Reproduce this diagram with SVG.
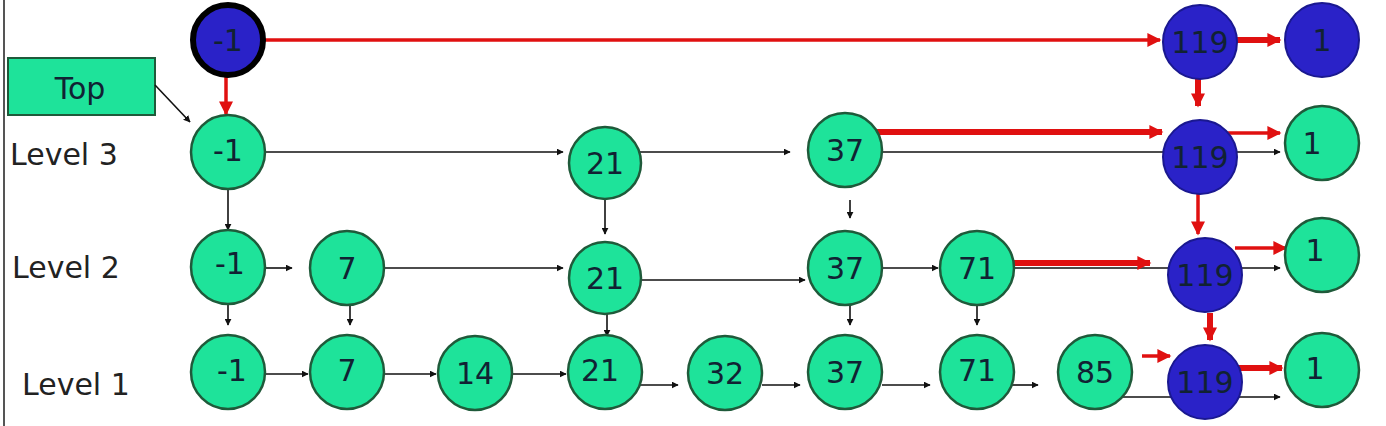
<svg xmlns="http://www.w3.org/2000/svg" width="1386" height="426" viewBox="0 0 1386 426">
<style>
.g{fill:#1ee39a;stroke:#1f5a3a;stroke-width:2.5}
.b{fill:#2a22c8;stroke:#1a1890;stroke-width:2}
.t{font-family:"DejaVu Sans",sans-serif;font-size:30px;fill:#123;text-anchor:middle;dominant-baseline:central}
.l{font-family:"DejaVu Sans",sans-serif;font-size:30px;fill:#222}
.k{stroke:#111;stroke-width:1.6;fill:none;marker-end:url(#ak)}
.r{stroke:#e01010;stroke-width:3.5;fill:none;marker-end:url(#ar)}
.R{stroke:#e01010;stroke-width:6;fill:none;marker-end:url(#ar)}
</style>
<defs>
<marker id="ak" viewBox="0 0 10 10" refX="9" refY="5" markerWidth="7" markerHeight="7" markerUnits="userSpaceOnUse" orient="auto"><path d="M0,0L10,5L0,10z" fill="#111"/></marker>
<marker id="ar" viewBox="0 0 10 10" refX="9" refY="5" markerWidth="16" markerHeight="14" markerUnits="userSpaceOnUse" orient="auto"><path d="M0,0L10,5L0,10z" fill="#e01010"/></marker>
</defs>
<rect width="1386" height="426" fill="#fff"/>
<line x1="4" y1="0" x2="4" y2="426" stroke="#555" stroke-width="2"/>
<g id="labels">
<rect x="8" y="58" width="147" height="57" fill="#1ee39a" stroke="#1f5a3a" stroke-width="2"/>
<text class="t" x="80" y="88">Top</text>
<text class="l" x="10" y="165">Level 3</text>
<text class="l" x="12" y="278">Level 2</text>
<text class="l" x="22" y="395">Level 1</text>
</g>
<g id="connectors">
<line class="k" x1="155" y1="85" x2="190" y2="122"/>
<line class="r" x1="264" y1="40" x2="1160" y2="40"/>
<line class="R" x1="1235" y1="40" x2="1280" y2="40"/>
<line class="r" x1="226" y1="72" x2="226" y2="114"/>
<line class="R" x1="1198" y1="62" x2="1198" y2="106"/>
<line class="k" x1="264" y1="152" x2="563" y2="152"/>
<line class="k" x1="640" y1="152" x2="790" y2="152"/>
<line class="k" x1="880" y1="152" x2="1280" y2="152"/>
<line class="R" x1="876" y1="132" x2="1162" y2="132"/>
<line class="r" x1="1222" y1="133" x2="1280" y2="133"/>
<line class="k" x1="228" y1="188" x2="228" y2="230"/>
<line class="k" x1="605" y1="200" x2="605" y2="234"/>
<line class="k" x1="850" y1="200" x2="850" y2="218"/>
<line class="r" x1="1198" y1="194" x2="1198" y2="234"/>
<line class="k" x1="265" y1="268" x2="292" y2="268"/>
<line class="k" x1="385" y1="268" x2="563" y2="268"/>
<line class="k" x1="640" y1="280" x2="805" y2="280"/>
<line class="k" x1="882" y1="268" x2="938" y2="268"/>
<line class="k" x1="1014" y1="268" x2="1280" y2="268"/>
<line class="R" x1="1014" y1="263" x2="1150" y2="263"/>
<line class="r" x1="1235" y1="248" x2="1286" y2="248"/>
<line class="k" x1="228" y1="305" x2="228" y2="325"/>
<line class="k" x1="350" y1="305" x2="350" y2="325"/>
<line class="k" x1="607" y1="314" x2="607" y2="336"/>
<line class="k" x1="850" y1="305" x2="850" y2="325"/>
<line class="k" x1="977" y1="305" x2="977" y2="325"/>
<line class="R" x1="1210" y1="313" x2="1210" y2="340"/>
<line class="k" x1="265" y1="374" x2="308" y2="374"/>
<line class="k" x1="385" y1="374" x2="436" y2="374"/>
<line class="k" x1="512" y1="374" x2="566" y2="374"/>
<line class="k" x1="620" y1="385" x2="678" y2="385"/>
<line class="k" x1="762" y1="385" x2="800" y2="385"/>
<line class="k" x1="882" y1="385" x2="930" y2="385"/>
<line class="k" x1="1012" y1="385" x2="1038" y2="385"/>
<line class="k" x1="1118" y1="397" x2="1280" y2="397"/>
<line class="r" x1="1142" y1="356" x2="1170" y2="356"/>
<line class="R" x1="1235" y1="368" x2="1282" y2="368"/>
</g>
<g id="n-top-m1"><circle cx="228" cy="40" r="35" fill="#2a22c8" stroke="#000" stroke-width="6"/><text class="t" x="228" y="40">-1</text></g>
<g id="n-top-119"><circle class="b" cx="1200" cy="42" r="37"/><text class="t" x="1200" y="42">119</text></g>
<g id="n-top-1"><circle class="b" cx="1322" cy="40" r="37"/><text class="t" x="1322" y="40">1</text></g>
<g id="n3-m1"><circle class="g" cx="228" cy="152" r="37"/><text class="t" x="228" y="150">-1</text></g>
<g id="n3-21"><circle class="g" cx="605" cy="163" r="36"/><text class="t" x="605" y="163">21</text></g>
<g id="n3-37"><circle class="g" cx="845" cy="150" r="37"/><text class="t" x="845" y="150">37</text></g>
<g id="n3-119"><circle class="b" cx="1200" cy="157" r="37"/><text class="t" x="1200" y="157">119</text></g>
<g id="n3-1"><circle class="g" cx="1322" cy="143" r="37"/><text class="t" x="1312" y="143">1</text></g>
<g id="n2-m1"><circle class="g" cx="228" cy="267" r="37"/><text class="t" x="230" y="263">-1</text></g>
<g id="n2-7"><circle class="g" cx="347" cy="268" r="37"/><text class="t" x="347" y="268">7</text></g>
<g id="n2-21"><circle class="g" cx="605" cy="278" r="36"/><text class="t" x="605" y="278">21</text></g>
<g id="n2-37"><circle class="g" cx="845" cy="268" r="37"/><text class="t" x="845" y="268">37</text></g>
<g id="n2-71"><circle class="g" cx="977" cy="268" r="37"/><text class="t" x="977" y="268">71</text></g>
<g id="n2-119"><circle class="b" cx="1205" cy="275" r="37"/><text class="t" x="1205" y="275">119</text></g>
<g id="n2-1"><circle class="g" cx="1322" cy="255" r="37"/><text class="t" x="1315" y="250">1</text></g>
<g id="n1-m1"><circle class="g" cx="228" cy="372" r="37"/><text class="t" x="232" y="370">-1</text></g>
<g id="n1-7"><circle class="g" cx="347" cy="372" r="37"/><text class="t" x="347" y="370">7</text></g>
<g id="n1-14"><circle class="g" cx="475" cy="373" r="37"/><text class="t" x="475" y="373">14</text></g>
<g id="n1-21"><circle class="g" cx="605" cy="372" r="37"/><text class="t" x="600" y="370">21</text></g>
<g id="n1-32"><circle class="g" cx="725" cy="373" r="37"/><text class="t" x="725" y="373">32</text></g>
<g id="n1-37"><circle class="g" cx="845" cy="372" r="37"/><text class="t" x="845" y="372">37</text></g>
<g id="n1-71"><circle class="g" cx="977" cy="372" r="37"/><text class="t" x="977" y="370">71</text></g>
<g id="n1-85"><circle class="g" cx="1095" cy="372" r="37"/><text class="t" x="1095" y="372">85</text></g>
<g id="n1-119"><circle class="b" cx="1205" cy="382" r="37"/><text class="t" x="1205" y="382">119</text></g>
<g id="n1-1"><circle class="g" cx="1322" cy="370" r="37"/><text class="t" x="1315" y="368">1</text></g>
</svg>
